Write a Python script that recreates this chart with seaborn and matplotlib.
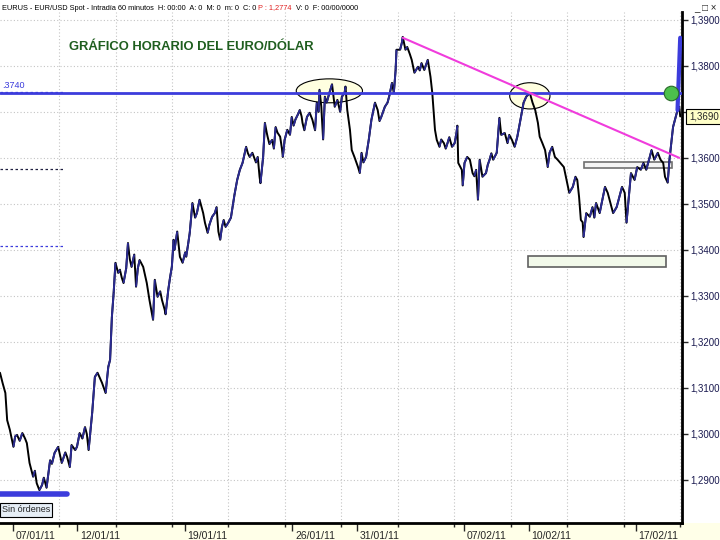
import numpy as np
import pandas as pd
import matplotlib
matplotlib.use("Agg")
import matplotlib.pyplot as plt
import matplotlib.transforms as mtransforms
from matplotlib import font_manager
import seaborn as sns
from matplotlib.patches import Ellipse, Rectangle
from matplotlib.collections import LineCollection
from matplotlib.ticker import FuncFormatter

# ======================
# DATOS (EUR/USD horario, horas de mercado desde el inicio del grafico)
# ======================
horas = [0, 3, 6, 8, 11, 15, 17, 19, 22, 25, 28, 30, 33, 37, 39, 41, 44, 47, 49, 52,
         56, 58, 61, 65, 67, 69, 73, 75, 78, 80, 84, 86, 89, 92, 95, 97, 99, 103, 106, 109,
         112, 114, 116, 118, 121, 123, 125, 127, 129, 132, 134, 136, 138, 141, 143, 145, 147, 150, 152, 154,
         156, 160, 162, 164, 167, 169, 171, 173, 176, 179, 181, 184, 185, 188, 190, 192, 194, 195, 198, 201,
         204, 207, 208, 210, 212, 215, 218, 220, 223, 227, 229, 232, 234, 237, 240, 242, 244, 246, 248, 250,
         252, 255, 258, 260, 262, 265, 268, 271, 275, 277, 279, 282, 286, 288, 290, 291, 294, 296, 298, 299,
         301, 304, 306, 308, 310, 313, 315, 316, 318, 321, 324, 326, 328, 330, 333, 335, 337, 338, 340, 343,
         346, 349, 352, 354, 356, 357, 359, 361, 363, 365, 368, 371, 374, 377, 380, 382, 385, 386, 388, 391,
         393, 396, 400, 402, 404, 406, 409, 412, 415, 419, 422, 424, 426, 430, 433, 435, 438, 440, 442, 443,
         447, 449, 450, 452, 453, 455, 458, 460, 463, 467, 469, 471, 474, 478, 481, 483, 486, 488, 491, 493,
         496, 498, 500, 502, 505, 508, 510, 511, 512, 516, 517, 519, 522, 525, 528, 530, 532, 534, 536, 539,
         543, 545, 547, 549, 551, 555, 558, 560, 564, 567, 569, 572, 575, 578, 580, 583, 585, 588, 592, 595,
         598, 601, 603, 606, 609, 612, 614, 617, 620, 623, 626, 630, 633, 636, 640, 643, 645, 647, 649, 651,
         652, 655, 659, 662, 664, 666, 670, 673, 676, 679, 682, 685, 689, 692, 695, 698, 700, 703, 705, 709,
         712, 716, 719, 722, 726, 728, 731, 735, 738, 741, 743, 746, 748, 750, 752, 755, 757, 759, 760]

precio = [1.3133, 1.3110, 1.3089, 1.3030, 1.3009, 1.2972, 1.2995, 1.2998, 1.2985, 1.3002,
          1.2990, 1.2980, 1.2937, 1.2907, 1.2920, 1.2893, 1.2878, 1.2889, 1.2905, 1.2883,
          1.2943, 1.2935, 1.2959, 1.2972, 1.2955, 1.2937, 1.2960, 1.2950, 1.2928, 1.2976,
          1.2965, 1.2972, 1.3002, 1.2990, 1.3015, 1.3000, 1.2965, 1.3046, 1.3124, 1.3133,
          1.3120, 1.3111, 1.3100, 1.3089, 1.3146, 1.3161, 1.3254, 1.3307, 1.3372, 1.3350,
          1.3357, 1.3340, 1.3328, 1.3360, 1.3415, 1.3380, 1.3363, 1.3390, 1.3320, 1.3360,
          1.3378, 1.3363, 1.3345, 1.3328, 1.3291, 1.3270, 1.3248, 1.3335, 1.3298, 1.3310,
          1.3291, 1.3270, 1.3260, 1.3313, 1.3340, 1.3363, 1.3422, 1.3400, 1.3440, 1.3385,
          1.3372, 1.3395, 1.3385, 1.3410, 1.3437, 1.3502, 1.3470, 1.3480, 1.3509, 1.3480,
          1.3459, 1.3437, 1.3455, 1.3472, 1.3480, 1.3493, 1.3440, 1.3422, 1.3450, 1.3465,
          1.3450, 1.3459, 1.3470, 1.3495, 1.3520, 1.3552, 1.3574, 1.3589, 1.3624, 1.3610,
          1.3602, 1.3611, 1.3590, 1.3602, 1.3559, 1.3545, 1.3602, 1.3676, 1.3655, 1.3646,
          1.3630, 1.3639, 1.3620, 1.3667, 1.3655, 1.3646, 1.3620, 1.3602, 1.3639, 1.3661,
          1.3650, 1.3689, 1.3670, 1.3683, 1.3695, 1.3704, 1.3690, 1.3676, 1.3660, 1.3689,
          1.3698, 1.3683, 1.3660, 1.3720, 1.3700, 1.3748, 1.3711, 1.3640, 1.3733, 1.3720,
          1.3741, 1.3760, 1.3711, 1.3726, 1.3700, 1.3733, 1.3741, 1.3755, 1.3704, 1.3661,
          1.3617, 1.3602, 1.3580, 1.3567, 1.3611, 1.3590, 1.3602, 1.3639, 1.3683, 1.3720,
          1.3704, 1.3680, 1.3689, 1.3711, 1.3720, 1.3735, 1.3763, 1.3741, 1.3790, 1.3835,
          1.3835, 1.3850, 1.3863, 1.3845, 1.3835, 1.3841, 1.3825, 1.3813, 1.3785, 1.3798,
          1.3790, 1.3806, 1.3791, 1.3813, 1.3776, 1.3741, 1.3661, 1.3639, 1.3624, 1.3640,
          1.3632, 1.3620, 1.3632, 1.3645, 1.3624, 1.3632, 1.3654, 1.3670, 1.3589, 1.3574,
          1.3540, 1.3589, 1.3602, 1.3596, 1.3567, 1.3560, 1.3574, 1.3509, 1.3596, 1.3559,
          1.3567, 1.3585, 1.3596, 1.3610, 1.3596, 1.3611, 1.3687, 1.3650, 1.3654, 1.3632,
          1.3650, 1.3639, 1.3624, 1.3646, 1.3667, 1.3698, 1.3720, 1.3733, 1.3741, 1.3720,
          1.3704, 1.3676, 1.3646, 1.3632, 1.3617, 1.3580, 1.3611, 1.3624, 1.3602, 1.3596,
          1.3589, 1.3580, 1.3552, 1.3524, 1.3537, 1.3559, 1.3552, 1.3515, 1.3465, 1.3460,
          1.3428, 1.3480, 1.3472, 1.3493, 1.3470, 1.3502, 1.3480, 1.3509, 1.3537, 1.3524,
          1.3502, 1.3480, 1.3493, 1.3515, 1.3537, 1.3524, 1.3459, 1.3524, 1.3567, 1.3552,
          1.3580, 1.3574, 1.3589, 1.3574, 1.3602, 1.3617, 1.3596, 1.3611, 1.3596, 1.3589,
          1.3559, 1.3546, 1.3596, 1.3632, 1.3667, 1.3689, 1.3704, 1.3711, 1.3690]

fechas = ["07/01/11", "12/01/11", "19/01/11", "26/01/11", "31/01/11", "07/02/11", "10/02/11", "17/02/11"]
dia_fecha = [0, 3, 8, 13, 16, 21, 24, 29]          # sesiones desde el 07/01
hora_fecha = [14.5 + 24 * d for d in dia_fecha]

niveles = [1.29, 1.30, 1.31, 1.32, 1.33, 1.34, 1.35, 1.36, 1.37, 1.38, 1.39]
resistencia = 1.3740
ultimo = 1.3690
directriz_h = [450, 759]
directriz_p = [1.3861, 1.3600]

AZUL = "#3c3cdc"
NAVY = "#2b2b92"

sns.set_style("white")
plt.rcParams["font.family"] = ["Liberation Sans", "DejaVu Sans"]

fig = plt.figure(figsize=(7.2, 5.4), dpi=100)
ax = fig.add_axes([0, 17 / 540, 682 / 720, 511 / 540])

# franja inferior amarilla (debajo de los ejes)
fig.patches.append(Rectangle((0, 0), 1, 17 / 540, transform=fig.transFigure,
                             facecolor="#ffffe8", edgecolor="none", zorder=-5))

# ======================
# GRID
# ======================
for v in niveles:
    ax.axhline(v, color="#c4c4c4", lw=0.8, ls=(0, (1, 2)), zorder=1)
grid_x = np.arange(66, 762, 63.1)
for g in grid_x:
    ax.axvline(g, color="#c4c4c4", lw=0.8, ls=(0, (1, 2)), zorder=1)

# ======================
# SERIE DE PRECIOS
# ======================
df = pd.DataFrame({"hora": horas, "precio": precio})
sns.lineplot(data=df, x="hora", y="precio", ax=ax, color="black", lw=1.4, zorder=4)
pts = np.column_stack([horas, precio])
segs = np.stack([pts[:-1], pts[1:]], axis=1)
sube = np.diff(precio) > 0
ax.add_collection(LineCollection(segs[sube], colors=NAVY, lw=1.4, zorder=5))

# ======================
# ANOTACIONES
# ======================
ax.add_patch(Ellipse((368, 1.37457), 74, 0.0052, facecolor="#ffffe0", edgecolor="black", lw=0.8, zorder=2))
ax.add_patch(Ellipse((592, 1.37348), 45, 0.0057, facecolor="#ffffe0", edgecolor="black", lw=0.8, zorder=2))
ax.add_patch(Rectangle((652, 1.3578), 99, 0.0013, facecolor="#f4f4f4", edgecolor="#707070", lw=1.2, zorder=3))
ax.add_patch(Rectangle((590, 1.3363), 154, 0.0024, facecolor="#f2f9ea", edgecolor="#606060", lw=1.2, zorder=3))

ax.axhline(resistencia, color=AZUL, lw=2, zorder=6)
ax.plot([0, 70], [1.3743, 1.3743], color=AZUL, lw=0.9, ls=(0, (2, 2)), zorder=6)
ax.plot([0, 70], [1.3576, 1.3576], color="#202040", lw=0.9, ls=(0, (2, 2)), zorder=6)
ax.plot([0, 70], [1.3409, 1.3409], color=AZUL, lw=0.9, ls=(0, (2, 2)), zorder=6)
ax.text(2, 1.3748, ".3740", color=AZUL, fontsize=6.5, va="bottom", ha="left", zorder=7)

ax.plot(directriz_h, directriz_p, color="#f03cdc", lw=1.5, zorder=7)
ax.plot([760, 757], [1.3861, 1.3704], color=AZUL, lw=3, zorder=8)
ax.scatter([750], [resistencia], s=110, color="#4cc04c", edgecolor="#2a6a2a", lw=0.8, zorder=9)
ax.plot([0, 75], [1.2870, 1.2870], color=AZUL, lw=4, solid_capstyle="round", zorder=6)

ax.text(2, 1.2835, "Sin órdenes", fontsize=6.5, va="center", ha="left", zorder=9,
        bbox=dict(boxstyle="square,pad=0.25", facecolor="#e6eef6", edgecolor="black", lw=0.8))

ax.text(77, 1.3841, "GRÁFICO HORARIO DEL EURO/DÓLAR", fontsize=9.4, fontweight="bold",
        color="#1f5e1f", va="center", ha="left", zorder=9)

# ======================
# EJES
# ======================
ax.set_xlim(0, 762)
ax.set_ylim(1.28065, 1.3917)
ax.set_xlabel("")
ax.set_ylabel("")
for s in ["left", "top"]:
    ax.spines[s].set_visible(False)
for s in ["right", "bottom"]:
    ax.spines[s].set_linewidth(2)
    ax.spines[s].set_color("black")

ax.yaxis.tick_right()
ax.set_yticks(niveles)
ax.yaxis.set_major_formatter(FuncFormatter(
    lambda v, _: "" if abs(v - 1.37) < 1e-6 else f"{v:.4f}".replace(".", ",")))
ax.tick_params(axis="y", direction="out", length=4, width=1, labelsize=7,
               labelcolor="#1a1a50", pad=2, right=True, left=False)

ax.set_xticks(hora_fecha)
ax.set_xticklabels(fechas, ha="left")
ax.set_xticks(list(grid_x), minor=True)
ax.tick_params(axis="x", which="major", direction="out", length=6, width=1, labelsize=7.5,
               pad=0, bottom=True)
ax.tick_params(axis="x", which="minor", direction="out", length=3, width=1, bottom=True)
desplaza = mtransforms.ScaledTranslation(2 / 72, 0, fig.dpi_scale_trans)
for lab in ax.get_xticklabels():
    lab.set_transform(lab.get_transform() + desplaza)

# etiqueta ultimo precio
ax.annotate(f"{ultimo:.4f}".replace(".", ","), xy=(1.0, ultimo), xycoords=("axes fraction", "data"),
            xytext=(5, 0), textcoords="offset points", fontsize=7, va="center", ha="left",
            annotation_clip=False, zorder=10,
            bbox=dict(boxstyle="square,pad=0.3", facecolor="#ffffc8", edgecolor="black", lw=0.8))

# ======================
# CABECERA
# ======================
nombres = {f.name for f in font_manager.fontManager.ttflist}
if "Liberation Sans Narrow" in nombres:
    fuente_cab, tam_cab = "Liberation Sans Narrow", 5.9
else:
    fuente_cab, tam_cab = "Liberation Sans", 5.3

fig.canvas.draw()
ren = fig.canvas.get_renderer()
partes = [("EURUS - EUR/USD Spot - Intradía 60 minutos  H: 00:00  A: 0  M: 0  m: 0  C: 0 ", "black"),
          ("P : 1,2774", "#e02020"),
          ("  V: 0  F: 00/00/0000", "black")]
xpos = 2
for txt, col in partes:
    t = fig.text(xpos / 720, 1 - 9.5 / 540, txt, fontsize=tam_cab, family=fuente_cab,
                 color=col, va="baseline", ha="left")
    xpos += t.get_window_extent(renderer=ren).width
fig.text(1 - 3 / 720, 1 - 8 / 540, "_ □ ×", fontsize=7, va="center", ha="right")

fig.savefig("out.png", dpi=100, facecolor="white")
